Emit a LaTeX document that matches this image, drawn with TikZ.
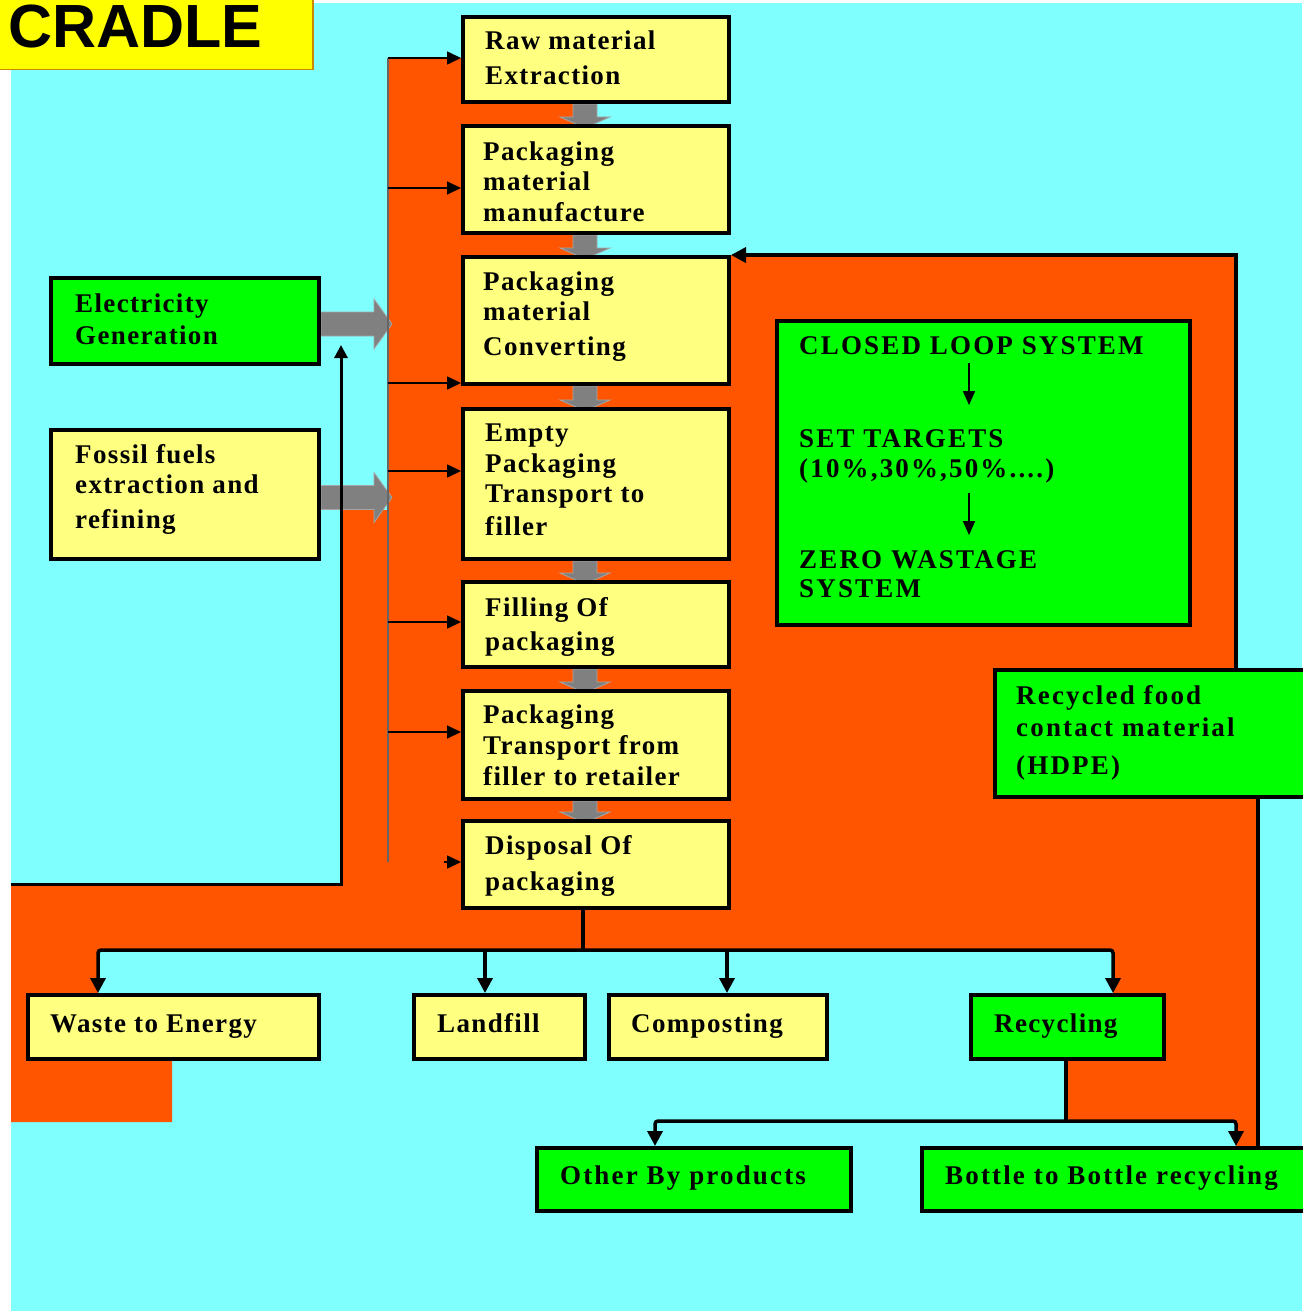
\documentclass[tikz,border=0pt]{standalone}
\usepackage{fontspec}
\setmainfont{Liberation Serif}
\newfontfamily\bxfont[LetterSpace=5]{Liberation Serif}
\newfontfamily\wxfont[LetterSpace=8]{Liberation Serif}
\newfontfamily\hdfont{Liberation Sans}
\usetikzlibrary{arrows.meta,calc}
\pgfdeclarelayer{back}
\pgfdeclarelayer{mid}
\pgfsetlayers{back,mid,main}
\definecolor{cyanbg}{RGB}{128,255,255}
\definecolor{orng}{RGB}{255,85,0}
\definecolor{ylw}{RGB}{255,255,128}
\definecolor{grn}{RGB}{0,255,0}
\definecolor{crad}{RGB}{255,255,0}
\definecolor{cradedge}{RGB}{204,136,0}
\definecolor{garrc}{RGB}{128,128,128}
\tikzset{
  ybox/.style={draw=black, line width=4pt, fill=ylw, inner sep=0pt, anchor=north west},
  gbox/.style={ybox, fill=grn},
  tx/.style={font=\bxfont\bfseries\fontsize{27}{31}\selectfont, inner sep=0pt, anchor=base west},
  wtx/.style={tx, font=\wxfont\bfseries\fontsize{27}{31}\selectfont},
  feedline/.style={draw=black!60, line width=2pt},
  feedarr/.style={line width=1.6pt, -{Triangle[length=14pt,width=13pt]}},
  heavy/.style={line width=3.5pt},
  heavyarr/.style={heavy, -{Triangle[length=15pt,width=15pt]}},
  looparr/.style={line width=1.6pt, -{Triangle[length=14pt,width=12pt]}},
  garr/.style={fill=garrc, draw=garrc!70, line width=0.8pt},
}
\newcommand\gblk[2]{%
  \fill[garr] ($(#1.south)+(-23,0)$) -- ($(#1.south)+(1,0)$) -- ($(#2.north)+(1,-7)$)
    -- ($(#2.north)+(14,-7)$) -- ($(#2.north)+(-11,4)$) -- ($(#2.north)+(-36,-7)$)
    -- ($(#2.north)+(-23,-7)$) -- cycle;}
\newcommand\gside[1]{%
  \fill[garr] ($(#1.east)+(0,-9)$) -- ($(#1.east)+(53,-9)$) -- ($(#1.east)+(53,-22)$)
    -- ($(#1.east)+(71,3)$) -- ($(#1.east)+(53,28)$) -- ($(#1.east)+(53,15)$)
    -- ($(#1.east)+(0,15)$) -- cycle;}
\begin{document}
\begin{tikzpicture}[x=1pt,y=-1pt]
\useasboundingbox (0,0) rectangle (1302,1311);
\begin{pgfonlayer}{back}
  \fill[white] (0,0) rectangle (1302,1311);
  \fill[cyanbg] (11,3) rectangle (1302,1311);
  \fill[orng] (388,58) -- (583,58) -- (583,255) -- (1236,255) -- (1236,668) -- (1258,668)
    -- (1258,1146) -- (1236,1146) -- (1236,1121) -- (1066,1121) -- (1066,1057) -- (1113,1057)
    -- (1113,950) -- (98,950) -- (98,993) -- (172,993) -- (172,1122) -- (11,1122)
    -- (11,884) -- (343,884) -- (343,510) -- (388,510) -- cycle;
\end{pgfonlayer}

% title
\node[draw=cradedge, line width=1.5pt, fill=crad, inner sep=0pt, anchor=north west,
      minimum width=315pt, minimum height=72pt] (cradlebox) at (-3,-3) {};
\node[font=\hdfont\bfseries\fontsize{61}{61}\selectfont, inner sep=0pt, anchor=base west]
      (cradle) at (8,47.5) {CRADLE};

% main column
\node[ybox, minimum width=266pt, minimum height=85pt]  (b1) at (461,15) {};
\node[ybox, minimum width=266pt, minimum height=107pt] (b2) at (461,124) {};
\node[ybox, minimum width=266pt, minimum height=127pt] (b3) at (461,255) {};
\node[ybox, minimum width=266pt, minimum height=150pt] (b4) at (461,407) {};
\node[ybox, minimum width=266pt, minimum height=85pt]  (b5) at (461,580) {};
\node[ybox, minimum width=266pt, minimum height=108pt] (b6) at (461,689) {};
\node[ybox, minimum width=266pt, minimum height=87pt]  (b7) at (461,819) {};

\node[tx] (t1) at (485,50) {\begin{tabular}[t]{@{}l@{}}Raw material\\[4pt]Extraction\end{tabular}};
\node[tx] (t2) at (483,160) {\begin{tabular}[t]{@{}l@{}}Packaging\\[-1pt]material\\manufacture\end{tabular}};
\node[tx] (t3) at (483,290) {\begin{tabular}[t]{@{}l@{}}Packaging\\[-1pt]material\\[4pt]Converting\end{tabular}};
\node[tx] (t4) at (485,441) {\begin{tabular}[t]{@{}l@{}}Empty\\Packaging\\[-1pt]Transport to\\[2pt]filler\end{tabular}};
\node[tx] (t5) at (485,616) {\begin{tabular}[t]{@{}l@{}}Filling Of\\[3pt]packaging\end{tabular}};
\node[tx] (t6) at (483,723) {\begin{tabular}[t]{@{}l@{}}Packaging\\Transport from\\filler to retailer\end{tabular}};
\node[tx] (t7) at (485,854) {\begin{tabular}[t]{@{}l@{}}Disposal Of\\[5pt]packaging\end{tabular}};

% left inputs
\node[gbox, minimum width=268pt, minimum height=86pt]  (elec) at (49,276) {};
\node[ybox, minimum width=268pt, minimum height=129pt] (fossil) at (49,428) {};
\node[tx] (te) at (75,312) {\begin{tabular}[t]{@{}l@{}}Electricity\\[1pt]Generation\end{tabular}};
\node[tx] (tf) at (75,463) {\begin{tabular}[t]{@{}l@{}}Fossil fuels\\[-1pt]extraction and\\[4pt]refining\end{tabular}};

% closed loop
\node[gbox, minimum width=413pt, minimum height=304pt] (loop) at (775,319) {};
\node[wtx] (tc1) at (799,354) {CLOSED LOOP SYSTEM};
\node[wtx] (tc2) at (799,447) {\begin{tabular}[t]{@{}l@{}}SET TARGETS\\[-1pt](10\%,30\%,50\%....)\end{tabular}};
\node[wtx] (tc3) at (799,568) {\begin{tabular}[t]{@{}l@{}}ZERO WASTAGE\\[-2pt]SYSTEM\end{tabular}};
\coordinate (cax) at (969,0);
\draw[looparr, shorten <=9pt, shorten >=20pt] (tc1.south -| cax) -- (tc2.north -| cax);
\draw[looparr, shorten <=6pt, shorten >=11pt] (tc2.south -| cax) -- (tc3.north -| cax);

% recycled food contact
\node[gbox, minimum width=313pt, minimum height=127pt] (rfood) at (993,668) {};
\node[wtx] (tr) at (1016,704) {\begin{tabular}[t]{@{}l@{}}Recycled food\\[1pt]contact material\\[7pt](HDPE)\end{tabular}};

% end of life
\node[ybox, minimum width=291pt, minimum height=64pt] (waste) at (26,993) {};
\node[ybox, minimum width=171pt, minimum height=64pt] (landfill) at (412,993) {};
\node[ybox, minimum width=218pt, minimum height=64pt] (compost) at (607,993) {};
\node[gbox, minimum width=193pt, minimum height=64pt] (recyc) at (969,993) {};
\node[gbox, minimum width=314pt, minimum height=63pt] (other) at (535,1146) {};
\node[gbox, minimum width=386pt, minimum height=63pt] (bottle) at (920,1146) {};
\node[tx] (tw) at (50,1032) {Waste to Energy};
\node[tx] (tl) at (437,1032) {Landfill};
\node[tx] (tcm) at (631,1032) {Composting};
\node[tx] (trc) at (994,1032) {Recycling};
\node[wtx] (to) at (560,1184) {Other By products};
\node[wtx] (tb) at (945,1184) {Bottle to Bottle recycling};

% gray block arrows
\begin{pgfonlayer}{mid}
  \gblk{b1}{b2}
  \gblk{b2}{b3}
  \gblk{b3}{b4}
  \gblk{b4}{b5}
  \gblk{b5}{b6}
  \gblk{b6}{b7}
  \gside{elec}
  \gside{fossil}
\end{pgfonlayer}

% feed line with arrows to every stage
\coordinate (f1) at (388,58);
\coordinate (f2) at (388,188);
\coordinate (f3) at (388,383);
\coordinate (f4) at (388,471);
\coordinate (f5) at (388,622);
\coordinate (f6) at (388,732);
\coordinate (f7) at (388,862);
\draw[feedline] (f1) -- (f7);
\draw[feedarr] (f1) -- (f1 -| b1.west);
\draw[feedarr] (f2) -- (f2 -| b2.west);
\draw[feedarr] (f3) -- (f3 -| b3.west);
\draw[feedarr] (f4) -- (f4 -| b4.west);
\draw[feedarr] (f5) -- (f5 -| b5.west);
\draw[feedarr] (f6) -- (f6 -| b6.west);
\draw[feedarr, shorten <=56pt] (f7) -- (f7 -| b7.west);

% energy recovery return line
\coordinate (lin) at (11,884);
\coordinate (etip) at (341,345);
\draw[line width=3pt, -{Triangle[length=13pt,width=13pt]}] (lin) -| (etip);

% disposal branches
\coordinate (j1) at (583,950);
\coordinate (jw) at (98,950);
\coordinate (jl) at (485,950);
\coordinate (jc) at (727,950);
\coordinate (jr) at (1113,950);
\draw[heavy] (b7.south -| j1) -- (j1);
\draw[heavyarr, rounded corners=3pt] (j1) -| (jw |- waste.north);
\draw[heavyarr, rounded corners=3pt] (j1) -| (jr |- recyc.north);
\draw[heavyarr] (jl) -- (jl |- landfill.north);
\draw[heavyarr] (jc) -- (jc |- compost.north);

% recycling branches
\coordinate (j2) at (1066,1121);
\coordinate (jo) at (655,1121);
\coordinate (jb) at (1236,1121);
\draw[heavy] (recyc.south -| j2) -- (j2);
\draw[heavyarr, rounded corners=3pt] (j2) -| (jo |- other.north);
\draw[heavyarr, rounded corners=3pt] (j2) -| (jb |- bottle.north);

% closed loop return
\coordinate (kx) at (1258,0);
\coordinate (ky) at (1236,0);
\draw[heavy] (bottle.north -| kx) -- (rfood.south -| kx);
\draw[heavyarr] (rfood.north -| ky) |- (b3.north east);
\end{tikzpicture}
\end{document}
